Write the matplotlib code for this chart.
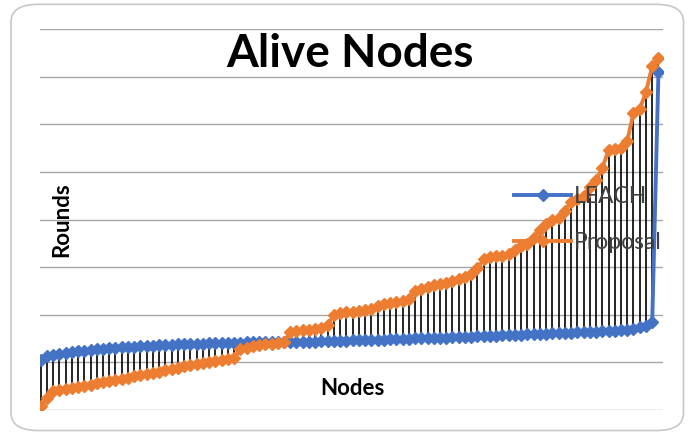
import matplotlib.pyplot as plt
import numpy as np
from matplotlib.patches import FancyBboxPatch

plt.rcParams['font.family'] = ['Lato', 'DejaVu Sans']

# rounds per node, sorted ascending
leach = [105, 113, 115, 118, 120, 122, 124, 124, 126, 128,
         128, 130, 130, 132, 132, 132, 134, 134, 134, 137,
         137, 137, 138, 138, 139, 139, 139, 140, 140, 141,
         141, 141, 141, 142, 142, 142, 142, 142, 143, 143,
         143, 143, 144, 144, 144, 145, 145, 145, 146, 146,
         147, 147, 147, 148, 148, 148, 149, 149, 150, 150,
         151, 151, 151, 152, 152, 152, 153, 153, 154, 154,
         155, 155, 156, 156, 157, 157, 158, 158, 159, 159,
         160, 160, 161, 161, 162, 162, 163, 163, 164, 165,
         166, 166, 167, 168, 169, 170, 174, 176, 185, 710]
proposal = [8, 25, 40, 42, 44, 46, 48, 50, 53, 57,
            59, 61, 63, 65, 67, 71, 73, 76, 78, 80,
            84, 86, 88, 92, 95, 97, 99, 101, 103, 105,
            107, 109, 128, 130, 134, 137, 139, 139, 141, 143,
            164, 166, 168, 168, 170, 172, 179, 200, 204, 206,
            206, 208, 210, 212, 218, 223, 225, 227, 229, 233,
            250, 254, 258, 263, 265, 267, 271, 275, 279, 286,
            298, 317, 321, 323, 323, 328, 336, 344, 349, 361,
            378, 391, 399, 403, 418, 437, 443, 449, 468, 483,
            508, 546, 548, 550, 565, 624, 632, 668, 722, 739]
nodes = np.arange(len(leach))

fig = plt.figure(figsize=(6.89, 4.34), dpi=100)
fig.patches.append(FancyBboxPatch((0.016, 0.008), 0.976, 0.982,
                                  boxstyle='round,pad=0,rounding_size=0.04',
                                  transform=fig.transFigure, fc='white',
                                  ec='#c8c8c8', lw=1.2, zorder=-1))
ax = fig.add_axes([0.058, 0.055, 0.904, 0.878])
ax.patch.set_alpha(0)

ax.vlines(nodes, leach, proposal, color='black', lw=1.2, zorder=2)
ax.plot(nodes, leach, color='#4472C4', lw=2.8, marker='D', ms=6.5,
        label='LEACH', zorder=3)
ax.plot(nodes, proposal, color='#ED7D31', lw=2.8, marker='D', ms=6.5,
        label='Proposal', zorder=4)

ax.set_ylim(0, 800)
ax.set_xlim(-0.1, 99.7)
ax.set_yticks(np.arange(0, 801, 100))
ax.yaxis.grid(True, color='#a6a6a6', lw=1)
ax.set_axisbelow(True)
ax.tick_params(left=False, bottom=False, labelleft=False, labelbottom=False)
for s in ax.spines.values():
    s.set_visible(False)

fig.text(0.508, 0.876, 'Alive Nodes', ha='center', va='center',
         fontsize=33, fontweight='bold')
fig.text(0.090, 0.493, 'Rounds', rotation=90, ha='center', va='center',
         fontsize=16, fontweight='bold')
fig.text(0.511, 0.105, 'Nodes', ha='center', va='center',
         fontsize=16, fontweight='bold')

leg = ax.legend(loc='center left', bbox_to_anchor=(0.716, 0.495),
                bbox_transform=fig.transFigure, frameon=False, fontsize=16.5,
                handlelength=2.5, labelspacing=1.1, handletextpad=0.1,
                labelcolor='#404040')
leg.set_zorder(10)

fig.savefig('out.png', dpi=100)
